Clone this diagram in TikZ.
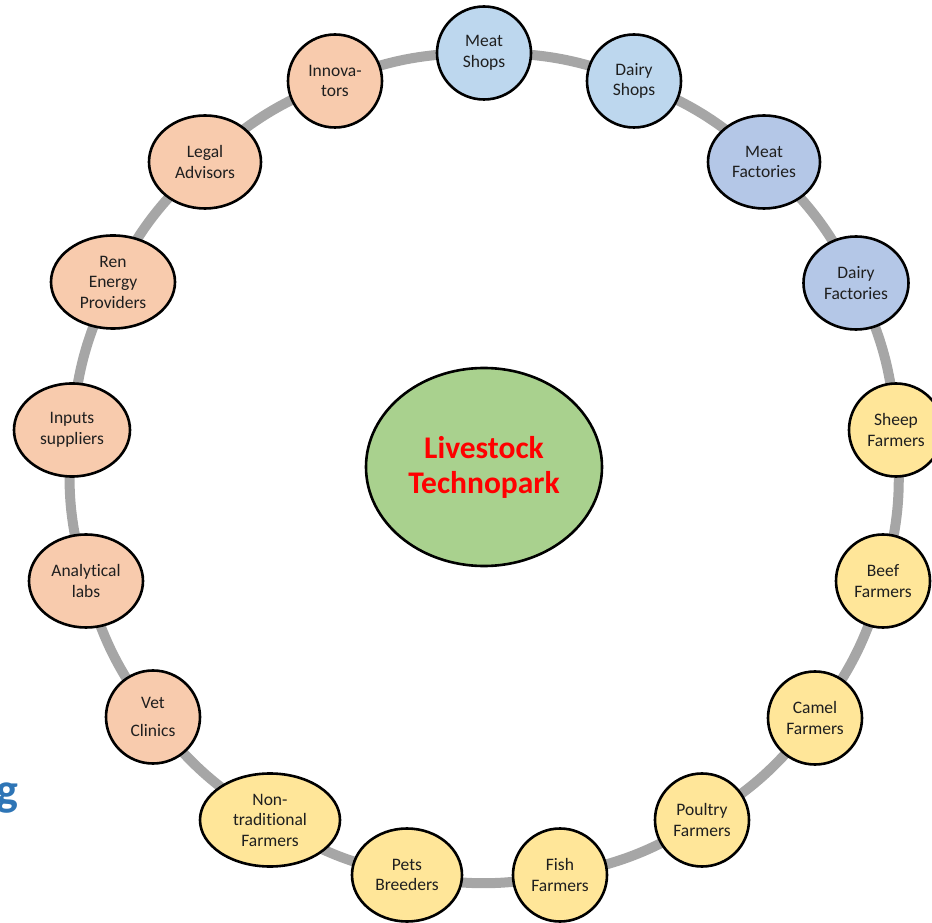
\documentclass[tikz,border=0pt]{standalone}
\usepackage{fontspec}
\setmainfont{Carlito}[Ligatures={NoCommon}]
\usetikzlibrary{shapes.geometric,backgrounds}
\definecolor{ringgray}{HTML}{A6A6A6}
\definecolor{shopblue}{HTML}{BDD7EE}
\definecolor{factblue}{HTML}{B4C7E7}
\definecolor{peach}{HTML}{F8CBAD}
\definecolor{sand}{HTML}{FFE699}
\definecolor{leaf}{HTML}{A9D18E}
\definecolor{gblue}{HTML}{2E75B6}
\begin{document}
\begin{tikzpicture}[x=1pt,y=1pt,
  member/.style={ellipse, draw=black, line width=2.6pt, minimum height=93pt,
    minimum width=94pt, inner sep=0pt, align=center,
    font=\fontsize{17.5}{20.5}\selectfont, text=black!88},
  shop/.style={member, fill=shopblue},
  factory/.style={member, fill=factblue},
  service/.style={member, fill=peach},
  farm/.style={member, fill=sand},
  hub/.style={ellipse, draw=black, line width=2.6pt, fill=leaf,
    minimum width=236pt, minimum height=198pt, align=center,
    font=\fontsize{31.5}{35}\selectfont\bfseries, text=red},
  ring/.style={draw=ringgray, line width=10pt}
]
\useasboundingbox (0,0) rectangle (932,922);
\node[hub] (hub) at (484,455) {Livestock\\Technopark};

\node[shop] (meatshops) at (484,869) {Meat\\Shops};
\node[shop] (dairyshops) at (634,841) {Dairy\\Shops};
\node[factory, minimum width=112pt] (meatfact) at (764,760) {Meat\\Factories};
\node[factory, minimum width=105pt] (dairyfact) at (856,639) {Dairy\\Factories};
\node[farm] (sheep) at (896,492) {Sheep\\Farmers};
\node[farm] (beef) at (883,341) {Beef\\Farmers};
\node[farm] (camel) at (815,204) {Camel\\Farmers};
\node[farm] (poultry) at (702,102) {Poultry\\Farmers};
\node[farm] (fish) at (560,47) {Fish\\Farmers};
\node[farm, minimum width=110pt] (pets) at (407,47) {Pets\\Breeders};
\node[farm, minimum width=140pt] (nontrad) at (270,102) {Non-\\traditional\\Farmers};
\node[service] (vet) at (153,205) {Vet\\[7pt]Clinics};
\node[service, minimum width=114pt] (analytical) at (86,341) {Analytical\\labs};
\node[service, minimum width=116pt] (inputs) at (72,492) {Inputs\\suppliers};
\node[service, minimum width=124pt] (ren) at (113,640) {Ren\\Energy\\Providers};
\node[service, minimum width=112pt] (legal) at (205,760) {Legal\\Advisors};
\node[service] (innov) at (335,841) {Innova-\\tors};

\node[font=\fontsize{46}{46}\selectfont\bfseries, text=gblue, anchor=base east,
  inner sep=0pt] (gfrag) at (19,117) {g};

\begin{scope}[on background layer]
\foreach \a/\b in {meatshops/dairyshops, dairyshops/meatfact, meatfact/dairyfact,
  dairyfact/sheep, sheep/beef, beef/camel, camel/poultry, poultry/fish,
  fish/pets, pets/nontrad, nontrad/vet, vet/analytical, analytical/inputs,
  inputs/ren, ren/legal, legal/innov, innov/meatshops}
  \draw[ring] (\a.center) to[bend left=10.6] (\b.center);
\end{scope}
\end{tikzpicture}
\end{document}
